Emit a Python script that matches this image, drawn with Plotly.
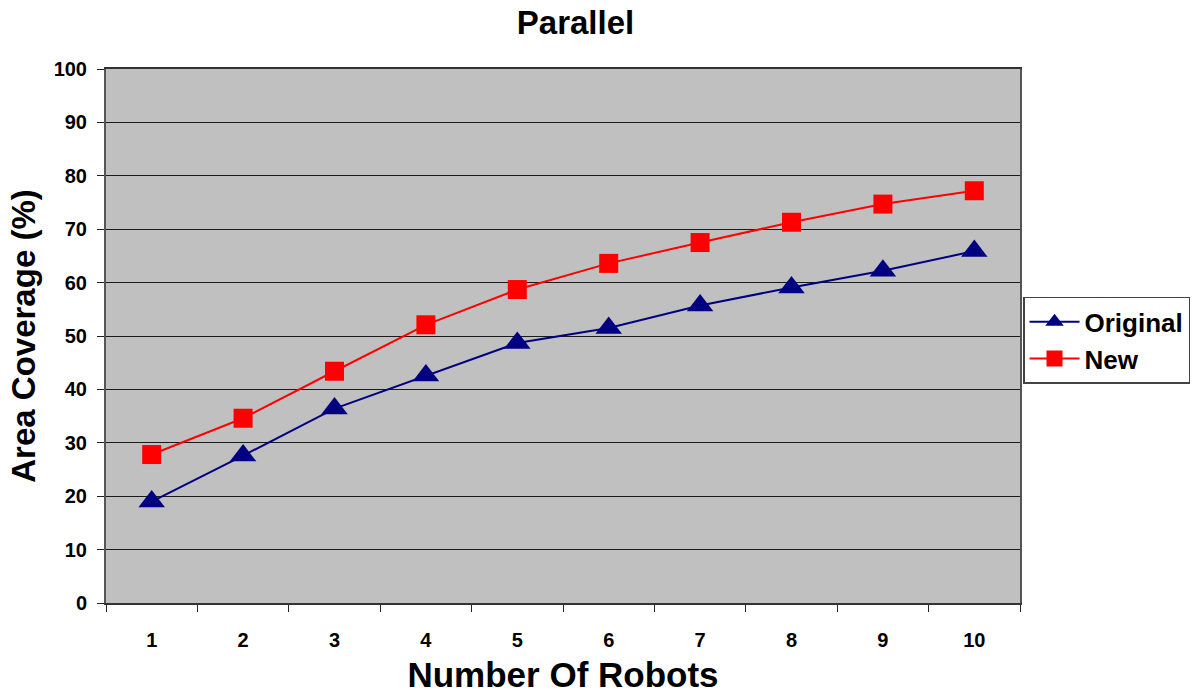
import plotly.graph_objects as go

robots = ["1", "2", "3", "4", "5", "6", "7", "8", "9", "10"]
original = [19.0, 27.6, 36.4, 42.6, 48.7, 51.5, 55.7, 59.1, 62.2, 65.9]
new = [27.8, 34.6, 43.4, 52.1, 58.7, 63.6, 67.5, 71.3, 74.7, 77.2]
y_ticks = [0, 10, 20, 30, 40, 50, 60, 70, 80, 90, 100]

FONT = "Liberation Sans, Arial, sans-serif"

W, H = 1198, 696

fig = go.Figure()
fig.add_trace(go.Scatter(
    x=robots, y=original, name="<b>Original</b>", mode="lines+markers",
    line=dict(color="#000080", width=2),
    marker=dict(symbol="triangle-up", size=23, color="#000080"),
))
fig.add_trace(go.Scatter(
    x=robots, y=new, name="<b>New</b>", mode="lines+markers",
    line=dict(color="#FF0000", width=2),
    marker=dict(symbol="square", size=19, color="#FF0000"),
))

fig.update_layout(
    width=W, height=H,
    margin=dict(l=106, r=178, t=69, b=92.5, autoexpand=False),
    paper_bgcolor="white",
    plot_bgcolor="#C0C0C0",
    font=dict(family=FONT, color="black"),
    title=dict(text="<b>Parallel</b>", x=0.5137, xref="paper", xanchor="center",
               y=1 - 22 / H, yref="container", yanchor="middle",
               font=dict(size=33, family=FONT)),
    showlegend=True,
    legend=dict(x=1.0033, xanchor="left", y=0.5734, yanchor="top",
                bgcolor="white", bordercolor="#444444", borderwidth=1.5,
                font=dict(size=26, family=FONT), itemwidth=50,
                tracegroupgap=0),
)
fig.update_xaxes(
    type="category", range=[-0.5, 9.5],
    tickson="boundaries", ticks="outside", ticklen=7, tickcolor="#222222",
    tickmode="array", tickvals=robots, ticktext=[f"<b>{r}</b>" for r in robots],
    tickfont=dict(size=20, family=FONT),
    ticklabelstandoff=18,
    showgrid=False, showline=True, linecolor="#333333", linewidth=1.5, mirror=True,
    title=dict(text="<b>Number Of Robots</b>", font=dict(size=35, family=FONT), standoff=13),
)
fig.update_yaxes(
    range=[0, 100], tickmode="array", tickvals=y_ticks,
    ticktext=[f"<b>{v}</b>" for v in y_ticks],
    ticks="outside", ticklen=7, tickcolor="#222222",
    tickfont=dict(size=20, family=FONT), ticklabelstandoff=6,
    showgrid=True, gridcolor="#1a1a1a", gridwidth=1.3,
    showline=True, linecolor="#555555", linewidth=2, mirror=True,
    zeroline=False,
    title=dict(text="<b>Area Coverage (%)</b>", font=dict(size=33, family=FONT), standoff=8),
)

# remove the browser's default page margin so the figure fills the window exactly
fig.write_html(
    "out.html",
    config={"displayModeBar": False},
    post_script="document.body.style.margin='0';document.body.style.overflow='hidden';",
)
